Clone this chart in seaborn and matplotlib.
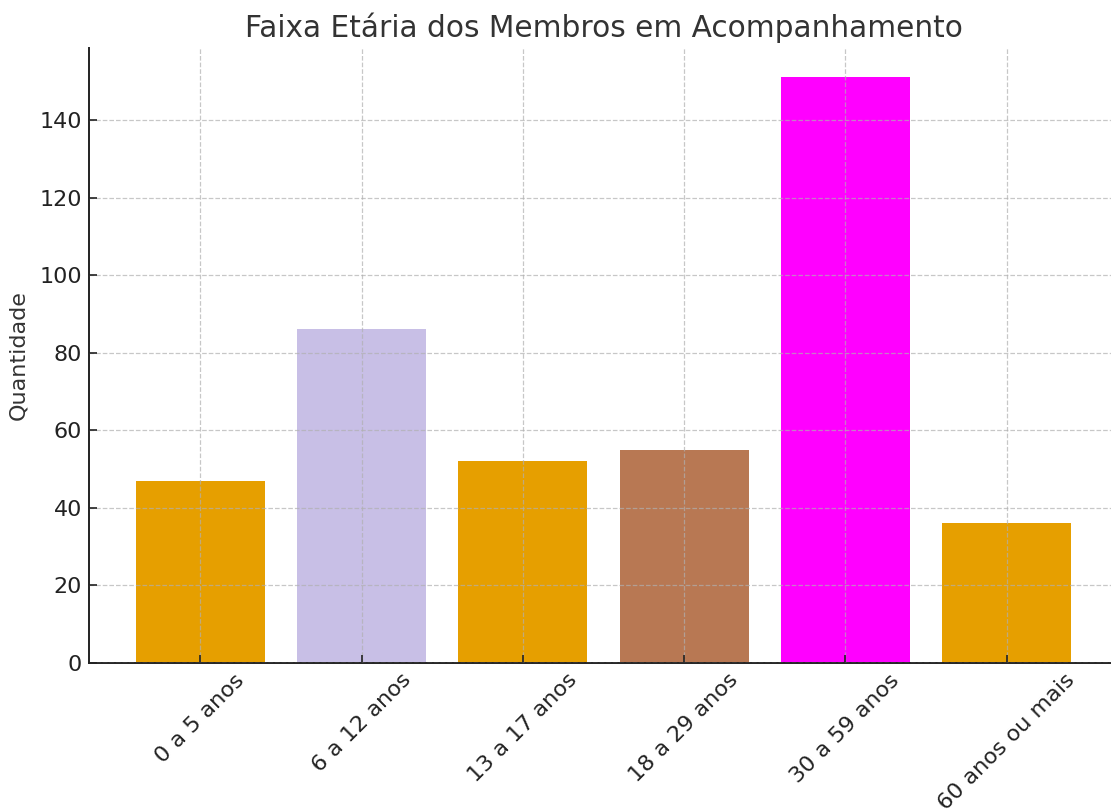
import matplotlib
matplotlib.use("Agg")
import matplotlib.pyplot as plt
import seaborn as sns
import pandas as pd

categories = ["0 a 5 anos", "6 a 12 anos", "13 a 17 anos", "18 a 29 anos", "30 a 59 anos", "60 anos ou mais"]
values = [47, 86, 52, 55, 151, 36]
colors = ["#E69F00", "#C8BFE6", "#E69F00", "#B87853", "#FF00FF", "#E69F00"]

sns.set_theme(style="white")
plt.rcParams['font.family'] = ['DejaVu Sans']
plt.rcParams['text.color'] = '#333333'

df = pd.DataFrame({"Faixa": categories, "Quantidade": values})

fig = plt.figure(figsize=(11.11, 8.09), dpi=100)
ax = fig.add_axes([89/1111, 1 - 663/809, (1118-89)/1111, (663-48)/809])
sns.barplot(data=df, x="Faixa", y="Quantidade", hue="Faixa", palette=colors,
            legend=False, ax=ax, width=0.8, saturation=1, edgecolor="none")

ax.set_xlim(-0.69, 5.69)
ax.set_ylim(0, 158.55)
ax.set_yticks([0, 20, 40, 60, 80, 100, 120, 140])
ax.set_title("Faixa Etária dos Membros em Acompanhamento", fontsize=21.3, color="#333333", pad=8)
ax.set_xlabel("")
ax.set_ylabel("Quantidade", fontsize=16, color="#333333", labelpad=8)
ax.tick_params(axis="both", direction="in", length=6, width=1.2, colors="#222222",
               labelsize=16, labelcolor="#222222", bottom=True, left=True, pad=5)
plt.setp(ax.get_xticklabels(), rotation=45, ha="center")
ax.grid(True, linestyle="--", color="#b0b0b0", alpha=0.7, linewidth=0.9)
ax.set_axisbelow(False)
for s in ["top", "right"]:
    ax.spines[s].set_visible(False)
for s in ["left", "bottom"]:
    ax.spines[s].set_color("#222222")
    ax.spines[s].set_linewidth(1.4)

fig.savefig("out.png", dpi=100)
